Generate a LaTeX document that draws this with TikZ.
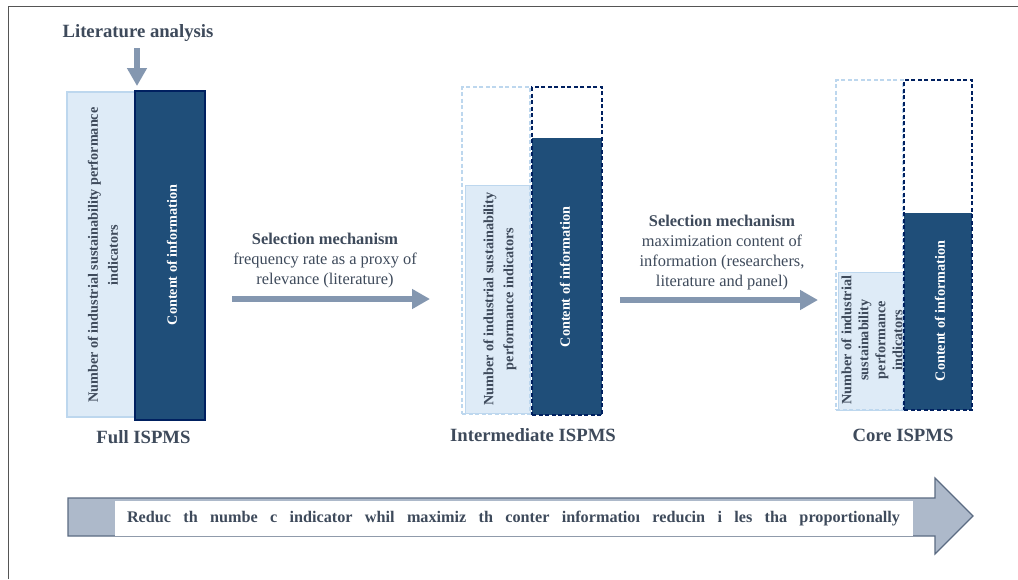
\documentclass[tikz,border=0pt]{standalone}
\usepackage{fontspec}
\setmainfont{Liberation Serif}
\usetikzlibrary{arrows.meta}
\definecolor{txt}{HTML}{3E4A5B}
\definecolor{lightfill}{HTML}{DEEBF7}
\definecolor{lightborder}{HTML}{BDD7EE}
\definecolor{darkfill}{HTML}{1F4E79}
\definecolor{darkborder}{HTML}{002060}
\definecolor{arrowc}{HTML}{8497B0}
\definecolor{bandfill}{HTML}{ADB9CA}
\definecolor{bandline}{HTML}{5B6B82}
\definecolor{framec}{HTML}{555555}
\begin{document}
\begin{tikzpicture}[x=1pt,y=-1pt,
  lightbar/.style={draw=lightborder, fill=lightfill, line width=1.6pt, inner sep=0pt},
  lightfillbox/.style={fill=lightfill, draw=lightborder, line width=0.6pt, inner sep=0pt},
  lightdash/.style={draw=lightborder, line width=1.6pt, dash pattern=on 4pt off 2.5pt, inner sep=0pt},
  darkbar/.style={draw=darkborder, fill=darkfill, line width=1.8pt, inner sep=0pt},
  darkfillbox/.style={fill=darkfill, inner sep=0pt},
  darkdash/.style={draw=darkborder, line width=1.8pt, dash pattern=on 4pt off 2.5pt, inner sep=0pt},
  vtext/.style={rotate=90, align=center, inner sep=0pt, font=\fontsize{14.2}{20}\selectfont\bfseries},
  title/.style={font=\fontsize{18.7}{22}\selectfont\bfseries, text=txt, inner sep=0pt},
  seltext/.style={align=center, font=\fontsize{16.4}{20}\selectfont, text=txt, inner sep=0pt},
  flow/.style={draw=arrowc, line width=6.5pt, -{Triangle[width=19pt,length=18pt]}}
]
\useasboundingbox (0,0) rectangle (1018,579);
\fill[white] (0,0) rectangle (1018,579);

% frame
\draw[framec, line width=1pt] (8,579) -- (8,6) -- (1018,6);

% literature analysis
\node[title] (lit) at (138,33) {Literature analysis};
\coordinate (litA) at (137,48);
\coordinate (litB) at (137,86);
\draw[flow] (litA) -- (litB);

% Full ISPMS
\node[lightbar, minimum width=68pt, minimum height=325pt] (fullL) at (101,254.5) {};
\node[darkbar, minimum width=70pt, minimum height=329pt] (fullD) at (170,255.5) {};
\node[vtext, text=txt] (fullLt) at (103,255) {Number of industrial sustainability performance\\indicators};
\node[vtext, text=white] (fullDt) at (172,255) {Content of information};
\node[title] (fullT) at (143.5,437) {Full ISPMS};

% arrow 1
\node[seltext] (sel1) at (325,261) {\textbf{Selection mechanism}\\frequency rate as a proxy of\\relevance (literature)};
\coordinate (a1s) at (232,299);
\coordinate (a1e) at (430,299);
\draw[flow] (a1s) -- (a1e);

% Intermediate ISPMS
\node[lightfillbox, minimum width=65pt, minimum height=228pt] (intLf) at (497.5,299) {};
\node[lightdash, minimum width=68pt, minimum height=327pt] (intL) at (496,250.5) {};
\node[darkfillbox, minimum width=70pt, minimum height=277pt] (intDf) at (567,276.5) {};
\node[darkdash, minimum width=70pt, minimum height=328pt] (intD) at (567,251) {};
\node[vtext, text=txt] (intLt) at (500,299) {Number of industrial sustainability\\performance indicators};
\node[vtext, text=white] (intDt) at (565,277) {Content of information};
\node[title] (intT) at (533,435) {Intermediate ISPMS};

% arrow 2
\node[seltext] (sel2) at (722,252.5) {\textbf{Selection mechanism}\\maximization content of\\information (researchers,\\literature and panel)};
\coordinate (a2s) at (620,300);
\coordinate (a2e) at (818,300);
\draw[flow] (a2s) -- (a2e);

% Core ISPMS
\node[lightfillbox, minimum width=65pt, minimum height=138pt] (coreLf) at (870.5,341) {};
\node[lightdash, minimum width=67pt, minimum height=330pt] (coreL) at (869.5,245) {};
\node[darkfillbox, minimum width=68pt, minimum height=197pt] (coreDf) at (938,311.5) {};
\node[darkdash, minimum width=68pt, minimum height=330pt] (coreD) at (938,245) {};
\node[vtext, text=txt, font=\fontsize{14.2}{17}\selectfont\bfseries] (coreLt) at (872,340) {Number of industrial\\sustainability\\performance\\indicators};
\node[vtext, text=white] (coreDt) at (940,311) {Content of information};
\node[title] (coreT) at (903,435) {Core ISPMS};

% bottom band arrow
\draw[fill=bandfill, draw=bandline, line width=1.1pt, line join=miter]
  (68,498) -- (935,498) -- (935,478) -- (973,516) -- (935,554) -- (935,536) -- (68,536) -- cycle;
\node[fill=white, inner sep=0pt, minimum width=798pt, minimum height=35pt] (band) at (514,518.5) {};
\node[inner sep=0pt, text=txt, font=\fontsize{16.2}{18}\selectfont\bfseries] (bandT) at (513.5,518.5)
  {\makebox[773pt]{Reduc\hfill th\hfill numbe\hfill c\hfill indicator\hfill whil\hfill maximiz\hfill th\hfill conter\hfill informatioı\hfill reducin\hfill i\hfill les\hfill tha\hfill proportionally}};
\end{tikzpicture}
\end{document}
